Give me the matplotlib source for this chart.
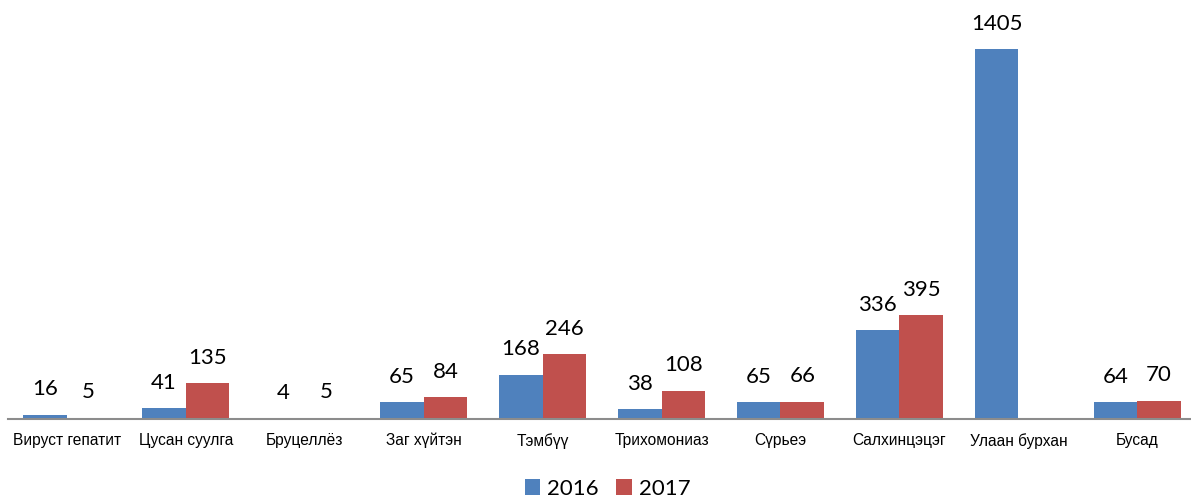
import numpy as np
import matplotlib
import matplotlib.pyplot as plt

matplotlib.rcParams['font.family'] = ['Liberation Sans', 'DejaVu Sans']

# data
categories = ["Вируст гепатит", "Цусан суулга", "Бруцеллёз", "Заг хүйтэн", "Тэмбүү",
              "Трихомониаз", "Сүрьеэ", "Салхинцэцэг", "Улаан бурхан", "Бусад"]
values_2016 = [16, 41, 4, 65, 168, 38, 65, 336, 1405, 64]
values_2017 = [5, 135, 5, 84, 246, 108, 66, 395, None, 70]

blue = '#4F81BD'
red = '#C0504D'
num_font = ['Lato', 'DejaVu Sans']

fig = plt.figure(figsize=(11.91, 4.97), dpi=100)
ax = fig.add_axes([0.0063, 0.157, 0.9985, 0.843])

x = np.arange(len(categories))
w = 0.366
v17 = [np.nan if v is None else v for v in values_2017]
b1 = ax.bar(x - w / 2, values_2016, w, color=blue, label='2016')
b2 = ax.bar(x + w / 2, v17, w, color=red, label='2017')

for xi, v in zip(x - w / 2, values_2016):
    ax.annotate(str(v), (xi, v), xytext=(0, 11), textcoords='offset points',
                ha='center', va='bottom', fontsize=16, family=num_font)
for xi, v in zip(x + w / 2, values_2017):
    if v is None:
        continue
    ax.annotate(str(v), (xi, v), xytext=(0, 11), textcoords='offset points',
                ha='center', va='bottom', fontsize=16, family=num_font)

ax.set_xlim(-0.5, len(categories) - 0.5)
ax.set_ylim(0, 1591)
ax.set_xticks(x)
ax.set_xticklabels(categories, fontsize=11.2)
ax.tick_params(axis='x', length=0, pad=10)
ax.set_yticks([])
for s in ['top', 'right', 'left']:
    ax.spines[s].set_visible(False)
ax.spines['bottom'].set_color('#8c8c8c')
ax.spines['bottom'].set_linewidth(1.5)

fig.legend(handles=[b1, b2], labels=['2016', '2017'], loc='center',
           bbox_to_anchor=(0.51, 0.017), ncol=2, frameon=False,
           prop={'family': num_font, 'size': 16}, handlelength=0.7,
           handleheight=0.7, handletextpad=0.3, columnspacing=0.8)

plt.savefig("out.png", dpi=100)
